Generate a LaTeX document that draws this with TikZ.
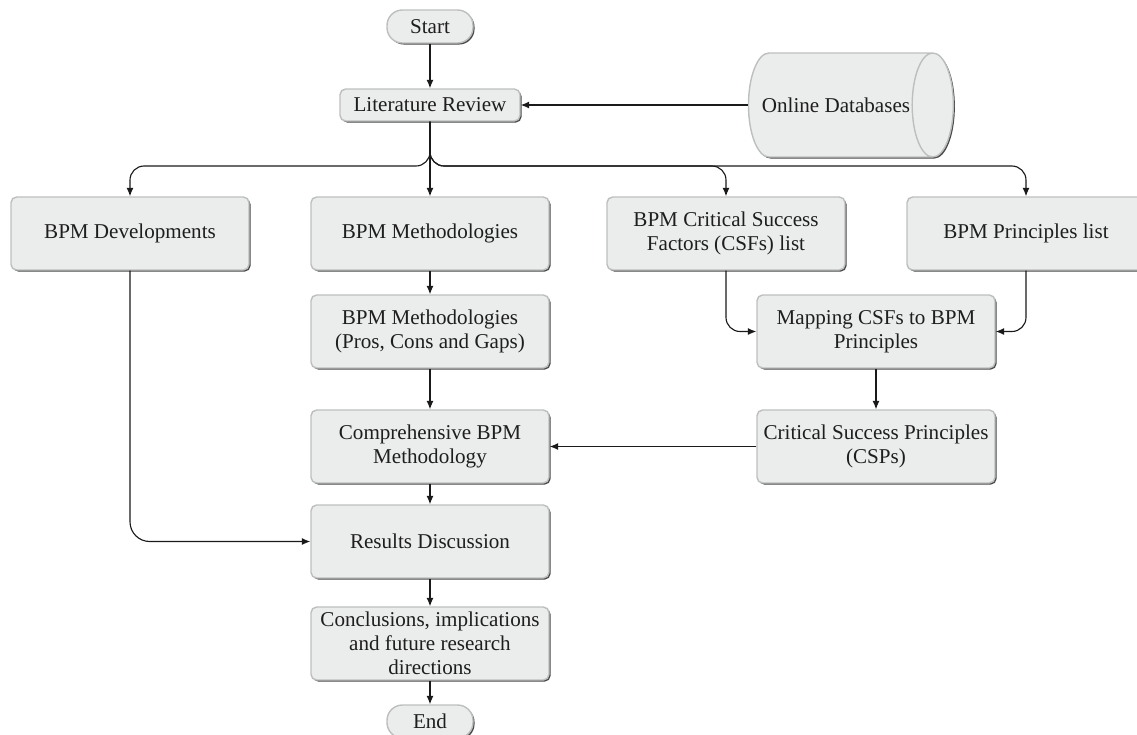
\documentclass[tikz,border=0pt]{standalone}
\usepackage{fontspec}
\setmainfont{Liberation Serif}
\usepackage{tikz}
\usetikzlibrary{arrows.meta, positioning, shapes.geometric, shadows}
\definecolor{boxFill}{HTML}{EBECEC}
\definecolor{boxEdge}{HTML}{BDBEBE}
\definecolor{boxShade}{HTML}{4A4A4A}
\definecolor{lineDark}{HTML}{1A1A1A}
\definecolor{textDark}{HTML}{1E1E1E}

\begin{document}
\begin{tikzpicture}[
    % ── shared styles ───────────────────────────────────────────────
    process/.style={
        rectangle, rounded corners=4pt,
        fill=boxFill, draw=boxEdge, line width=1pt,
        font=\fontsize{15}{17}\selectfont, text=textDark,
        minimum height=1.825cm, minimum width=5.95cm,
        inner ysep=1pt, align=center,
        drop shadow={shadow xshift=1.1pt, shadow yshift=-1.1pt,
                     fill=boxShade, opacity=1},
    },
    terminal/.style={
        rectangle, rounded corners=11pt,
        fill=boxFill, draw=boxEdge, line width=1pt,
        font=\fontsize{15}{17}\selectfont, text=textDark,
        minimum height=0.825cm, minimum width=2.15cm,
        drop shadow={shadow xshift=1.1pt, shadow yshift=-1.1pt,
                     fill=boxShade, opacity=1},
    },
    source/.style={
        cylinder, aspect=1.7, inner xsep=1pt,
        fill=boxFill, draw=boxEdge, line width=1pt,
        font=\fontsize{15}{17}\selectfont, text=textDark,
        minimum height=4.8cm, minimum width=2.6cm,
        drop shadow={shadow xshift=1.1pt, shadow yshift=-1.1pt,
                     fill=boxShade, opacity=1},
    },
    flow/.style={
        -{Latex[length=6pt,width=5pt]},
        lineDark, line width=0.8pt,
    },
]
\useasboundingbox (0,0) rectangle (28.425,-18.35);

% =============================================================
%  START, REVIEW AND SOURCE
% =============================================================
\node[terminal] (start) at (10.75,-0.6625) {Start};
\node[process, minimum width=4.5cm, minimum height=0.8cm]
    (litrev) at (10.75,-2.625) {Literature Review};
\node[source] (onlinedb) at (20.9,-2.625) {Online Databases};

% =============================================================
%  FIRST ROW
% =============================================================
\node[process] (devel) at (3.25,-5.8375) {BPM Developments};
\node[process] (methods) at (10.75,-5.8375) {BPM Methodologies};
\node[process] (csf) at (18.15,-5.8375)
    {BPM Critical Success\\Factors (CSFs) list};
\node[process] (principles) at (25.65,-5.8375) {BPM Principles list};

% =============================================================
%  MAIN COLUMN AND RIGHT COLUMN
% =============================================================
\node[process] (pcg) at (10.75,-8.2875)
    {BPM Methodologies\\(Pros, Cons and Gaps)};
\node[process] (comp) at (10.75,-11.1625)
    {Comprehensive BPM\\Methodology};
\node[process] (results) at (10.75,-13.5375) {Results Discussion};
\node[process] (concl) at (10.75,-16.0875)
    {Conclusions, implications\\and future research\\directions};
\node[terminal] (end) at (10.75,-18.0375) {End};

\node[process] (mapping) at (21.9,-8.2875)
    {Mapping CSFs to BPM\\Principles};
\node[process] (csp) at (21.9,-11.1625)
    {Critical Success Principles\\(CSPs)};

% =============================================================
%  Connections
% =============================================================
\coordinate (split) at (10.75,-4.15);

\draw[flow] (start) -- (litrev);
\draw[flow] (onlinedb.west) -- (litrev.east);

\draw[flow, rounded corners=10pt] (litrev.south) |- (devel.north |- split) -- (devel.north);
\draw[flow] (litrev.south) -- (methods.north);
\draw[flow, rounded corners=10pt] (litrev.south) |- (csf.north |- split) -- (csf.north);
\draw[flow, rounded corners=10pt] (litrev.south) |- (principles.north |- split) -- (principles.north);

\draw[flow] (methods) -- (pcg);
\draw[flow] (pcg) -- (comp);
\draw[flow] (comp) -- (results);
\draw[flow] (results) -- (concl);
\draw[flow] (concl) -- (end);

\draw[flow, rounded corners=10pt] (csf.south) |- (mapping.west);
\draw[flow, rounded corners=10pt] (principles.south) |- (mapping.east);
\draw[flow] (mapping) -- (csp);
\draw[flow] (csp.west) -- (comp.east);

\draw[flow, rounded corners=14pt] (devel.south) |- (results.west);

\end{tikzpicture}
\end{document}
